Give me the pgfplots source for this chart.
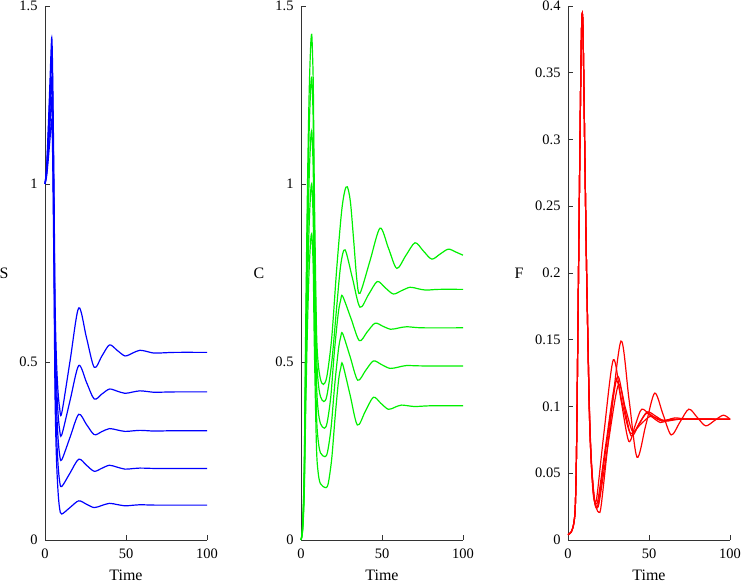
\documentclass[border=0pt]{standalone}
\usepackage{fontspec}
\setmainfont{Liberation Serif}
\usepackage{pgfplots}
\pgfplotsset{compat=1.18}
\usepackage{pgfplotstable}

\definecolor{sblue}{RGB}{0,0,255}
\definecolor{cgreen}{RGB}{0,240,0}
\definecolor{fred}{RGB}{255,0,0}

% S curves, top to bottom
\pgfplotstableread{
x s1 s2 s3 s4 s5
0 1.0 1.0 1.0 1.0 1.0
1 1.049 1.043 1.036 1.029 1.022
2 1.156 1.137 1.114 1.091 1.068
3 1.279 1.245 1.204 1.163 1.122
4.1 1.41 1.36 1.30 1.24 1.18
4.6 1.347 1.296 1.2355 1.175 1.114
5.1 1.178 1.126 1.0635 1.0 0.9365
5.6 0.967 0.913 0.8485 0.782 0.715
6.2 0.672 0.6145 0.5475 0.477 0.405
7 0.514 0.455 0.386 0.3135 0.239
8 0.419 0.359 0.2895 0.2154 0.1394
9 0.372 0.311 0.241 0.1663 0.0896
10.3 0.356 0.295 0.225 0.150 0.073
15.5 0.504 0.3925 0.289 0.1885 0.0915
20.8 0.652 0.490 0.353 0.227 0.110
25.6 0.5685 0.443 0.3245 0.210 0.1005
30.4 0.485 0.396 0.296 0.193 0.091
35.1 0.5165 0.410 0.3045 0.2015 0.097
39.8 0.548 0.424 0.313 0.210 0.103
44.6 0.5325 0.418 0.309 0.2045 0.0995
49.4 0.517 0.412 0.305 0.199 0.096
54 0.525 0.4155 0.3065 0.2005 0.0975
58.6 0.533 0.419 0.308 0.202 0.099
63.3 0.529 0.417 0.307 0.2015 0.0985
68 0.525 0.415 0.306 0.201 0.098
80 0.527 0.416 0.307 0.201 0.098
100 0.527 0.416 0.307 0.201 0.098
}\Sdata

\pgfplotsset{
  panel/.style={
    scale only axis, width=162bp, height=534bp,
    axis lines*=left, tick align=inside, major tick length=5bp,
    xmin=0, xmax=100, xtick={0,50,100},
    axis line style={black!80, line width=0.8pt},
    every tick/.style={black!80, line width=0.8pt},
    every tick label/.append style={font=\fontsize{14.5}{17}\selectfont},
    xticklabel style={yshift=-5bp},
    yticklabel style={xshift=-4bp},
    label style={font=\fontsize{16}{19}\selectfont},
    xlabel={Time},
    xlabel style={at={(axis description cs:0.5,0)}, anchor=base, yshift=-40bp},
    ylabel style={rotate=-90, at={(axis description cs:0,0.5)}, anchor=center},
    /pgf/number format/assume math mode=true,
    /pgf/number format/fixed,
    scaled y ticks=false,
    clip=false,
    every axis plot/.append style={line width=1.2pt, smooth, tension=0.5, no markers},
  }
}

\begin{document}
\begin{tikzpicture}
\useasboundingbox (0,0) rectangle (742bp,582bp);

% ---- S ----
\begin{axis}[panel, at={(45bp,42bp)}, ymin=0, ymax=1.5, ytick={0,0.5,1,1.5},
  ylabel={S}, ylabel style={xshift=-41bp}]
\addplot[sblue] table[x=x, y=s1] {\Sdata};
\addplot[sblue] table[x=x, y=s2] {\Sdata};
\addplot[sblue] table[x=x, y=s3] {\Sdata};
\addplot[sblue] table[x=x, y=s4] {\Sdata};
\addplot[sblue] table[x=x, y=s5] {\Sdata};
\end{axis}

% ---- C ----
\begin{axis}[panel, at={(301bp,42bp)}, ymin=0, ymax=1.5, ytick={0,0.5,1,1.5},
  ylabel={C}, ylabel style={xshift=-42bp}]
\addplot[cgreen] coordinates {
(0,0) (1,0.043) (2,0.213) (3,0.639) (4,0.994) (5,1.250) (6,1.392) (6.6,1.42)
(7,1.381) (7.6,1.273) (8.2,0.997) (9.5,0.604) (10.5,0.501) (12,0.452) (13.8,0.437)
(16,0.46) (19,0.57) (22,0.76) (25,0.92) (27,0.98) (28.6,0.992) (30.5,0.95)
(32.5,0.8425) (34.5,0.73) (36.4,0.693) (42.6,0.7845) (48.8,0.876) (54,0.8195)
(59.1,0.763) (64.7,0.799) (70.4,0.835) (75.5,0.812) (80.7,0.789) (85.8,0.803)
(90.9,0.817) (95.5,0.809) (100,0.80)};
\addplot[cgreen] coordinates {
(0,0) (1,0.039) (2,0.195) (3,0.585) (4,0.91) (5,1.144) (6,1.274) (6.6,1.30)
(7,1.264) (7.6,1.163) (8.2,0.908) (9.5,0.544) (10.5,0.448) (12,0.403) (14.1,0.389)
(16,0.406) (19,0.50) (22,0.653) (24.5,0.772) (27.2,0.815) (31.8,0.7345) (36.4,0.654)
(41.75,0.69) (47.1,0.726) (52,0.7085) (57,0.691) (62.1,0.7005) (67.3,0.710)
(72,0.706) (77,0.702) (85,0.704) (100,0.704)};
\addplot[cgreen] coordinates {
(0,0) (1,0.0345) (2,0.1725) (3,0.5175) (4,0.805) (5,1.012) (6,1.127) (6.6,1.15)
(7,1.117) (7.6,1.025) (8.2,0.791) (9.5,0.456) (10.5,0.368) (12,0.327) (14.4,0.314)
(16.1,0.329) (18.4,0.403) (20.6,0.529) (23.0,0.637) (24.5,0.674) (25.7,0.685)
(30.85,0.6225) (36,0.560) (40.85,0.5845) (45.7,0.609) (50.5,0.6005) (55.3,0.592)
(60.25,0.5955) (65.2,0.599) (75,0.596) (100,0.596)};
\addplot[cgreen] coordinates {
(0,0) (1,0.03) (2,0.15) (3,0.45) (4,0.70) (5,0.88) (6,0.98) (6.6,1.00)
(7,0.969) (7.6,0.885) (8.2,0.671) (9.5,0.364) (10.5,0.284) (12,0.245) (14.8,0.234)
(16.4,0.248) (18.6,0.317) (20.8,0.435) (23.1,0.535) (24.5,0.570) (25.7,0.58)
(30.35,0.5145) (35,0.449) (39.85,0.476) (44.7,0.503) (49.8,0.4925) (54.9,0.482)
(60,0.4855) (65,0.490) (75,0.489) (100,0.489)};
\addplot[cgreen] coordinates {
(0,0) (1,0.026) (2,0.129) (3,0.387) (4,0.602) (5,0.757) (6,0.843) (6.6,0.86)
(7,0.8315) (7.6,0.753) (8.2,0.553) (9.5,0.268) (10.5,0.193) (12,0.158) (15.4,0.147)
(16.9,0.161) (19.0,0.230) (21.1,0.348) (23.2,0.449) (24.6,0.484) (25.7,0.494)
(30.25,0.4085) (34.8,0.323) (39.75,0.362) (44.7,0.401) (49.3,0.384) (53.9,0.367)
(58,0.373) (62.1,0.379) (70,0.375) (80,0.377) (100,0.377)};
\end{axis}

% ---- F ----
\begin{axis}[panel, at={(568bp,42bp)}, ymin=0, ymax=0.4,
  ytick={0,0.05,0.1,0.15,0.2,0.25,0.3,0.35,0.4},
  ylabel={F}, ylabel style={xshift=-49bp}]
\addplot[fred] coordinates {
(0,0.004) (2,0.006) (3.5,0.012) (4.5,0.025) (5.3,0.07) (6.4,0.19) (7.5,0.31)
(8.2,0.372) (8.7,0.394) (9.3,0.38) (10.5,0.28) (11.5,0.2) (13.2,0.095) (14.5,0.055)
(15.5,0.035) (16.7,0.0287) (18,0.034) (22.35,0.082) (28,0.135) (32.75,0.1045)
(37.5,0.074) (41.5,0.086) (45.5,0.098) (51,0.093) (57,0.088) (61.5,0.0898)
(66,0.0915) (75,0.0905) (100,0.0905)};
\addplot[fred] coordinates {
(0,0.004) (2,0.006) (3.5,0.012) (4.5,0.025) (5.3,0.07) (6.4,0.19) (7.5,0.31)
(8.2,0.372) (8.7,0.394) (9.3,0.38) (10.5,0.28) (11.5,0.2) (13.2,0.1) (14.5,0.058)
(16,0.034) (17.5,0.024) (19.1,0.0207) (20.6,0.027) (25.9,0.085) (32.7,0.149)
(37.65,0.1055) (42.6,0.062) (48,0.086) (53.5,0.110) (58.6,0.0943) (63.7,0.0787)
(69.15,0.0884) (74.6,0.098) (79.8,0.0918) (85,0.0855) (90.45,0.0895) (95.9,0.0935)
(100,0.0905)};
\addplot[fred] coordinates {
(0,0.004) (2,0.006) (3.5,0.012) (4.5,0.025) (5.3,0.07) (6.4,0.19) (7.5,0.31)
(8.2,0.372) (8.7,0.394) (9.3,0.38) (10.5,0.28) (11.5,0.2) (13.2,0.097) (14.5,0.056)
(16.2,0.030) (17.7,0.025) (19.2,0.031) (24,0.0735) (30.4,0.122) (34.7,0.100)
(39,0.078) (43.75,0.0865) (48.5,0.095) (53.25,0.092) (58,0.089) (65,0.0905)
(100,0.0905)};
\addplot[fred] coordinates {
(0,0.004) (2,0.006) (3.5,0.012) (4.5,0.025) (5.3,0.07) (6.4,0.19) (7.5,0.31)
(8.2,0.372) (8.7,0.394) (9.3,0.38) (10.5,0.28) (11.5,0.2) (13.2,0.095) (14.5,0.055)
(16.1,0.031) (17.5,0.027) (18.9,0.033) (23.5,0.073) (29.5,0.119) (34,0.0995)
(38.5,0.080) (44.5,0.0863) (50.5,0.0925) (55.25,0.091) (60,0.0895) (70,0.0905)
(100,0.0905)};
\addplot[fred] coordinates {
(0,0.004) (2,0.006) (3.5,0.012) (4.5,0.025) (5.3,0.07) (6.4,0.19) (7.5,0.31)
(8.2,0.372) (8.7,0.394) (9.3,0.38) (10.5,0.28) (11.5,0.2) (13.2,0.097) (14.5,0.056)
(16.5,0.028) (18,0.024) (19.5,0.030) (24.5,0.070) (31,0.116) (35.5,0.0985)
(40,0.081) (44.5,0.0885) (49,0.096) (54.5,0.0925) (60,0.089) (70,0.0905)
(100,0.0905)};
\end{axis}
\end{tikzpicture}
\end{document}
